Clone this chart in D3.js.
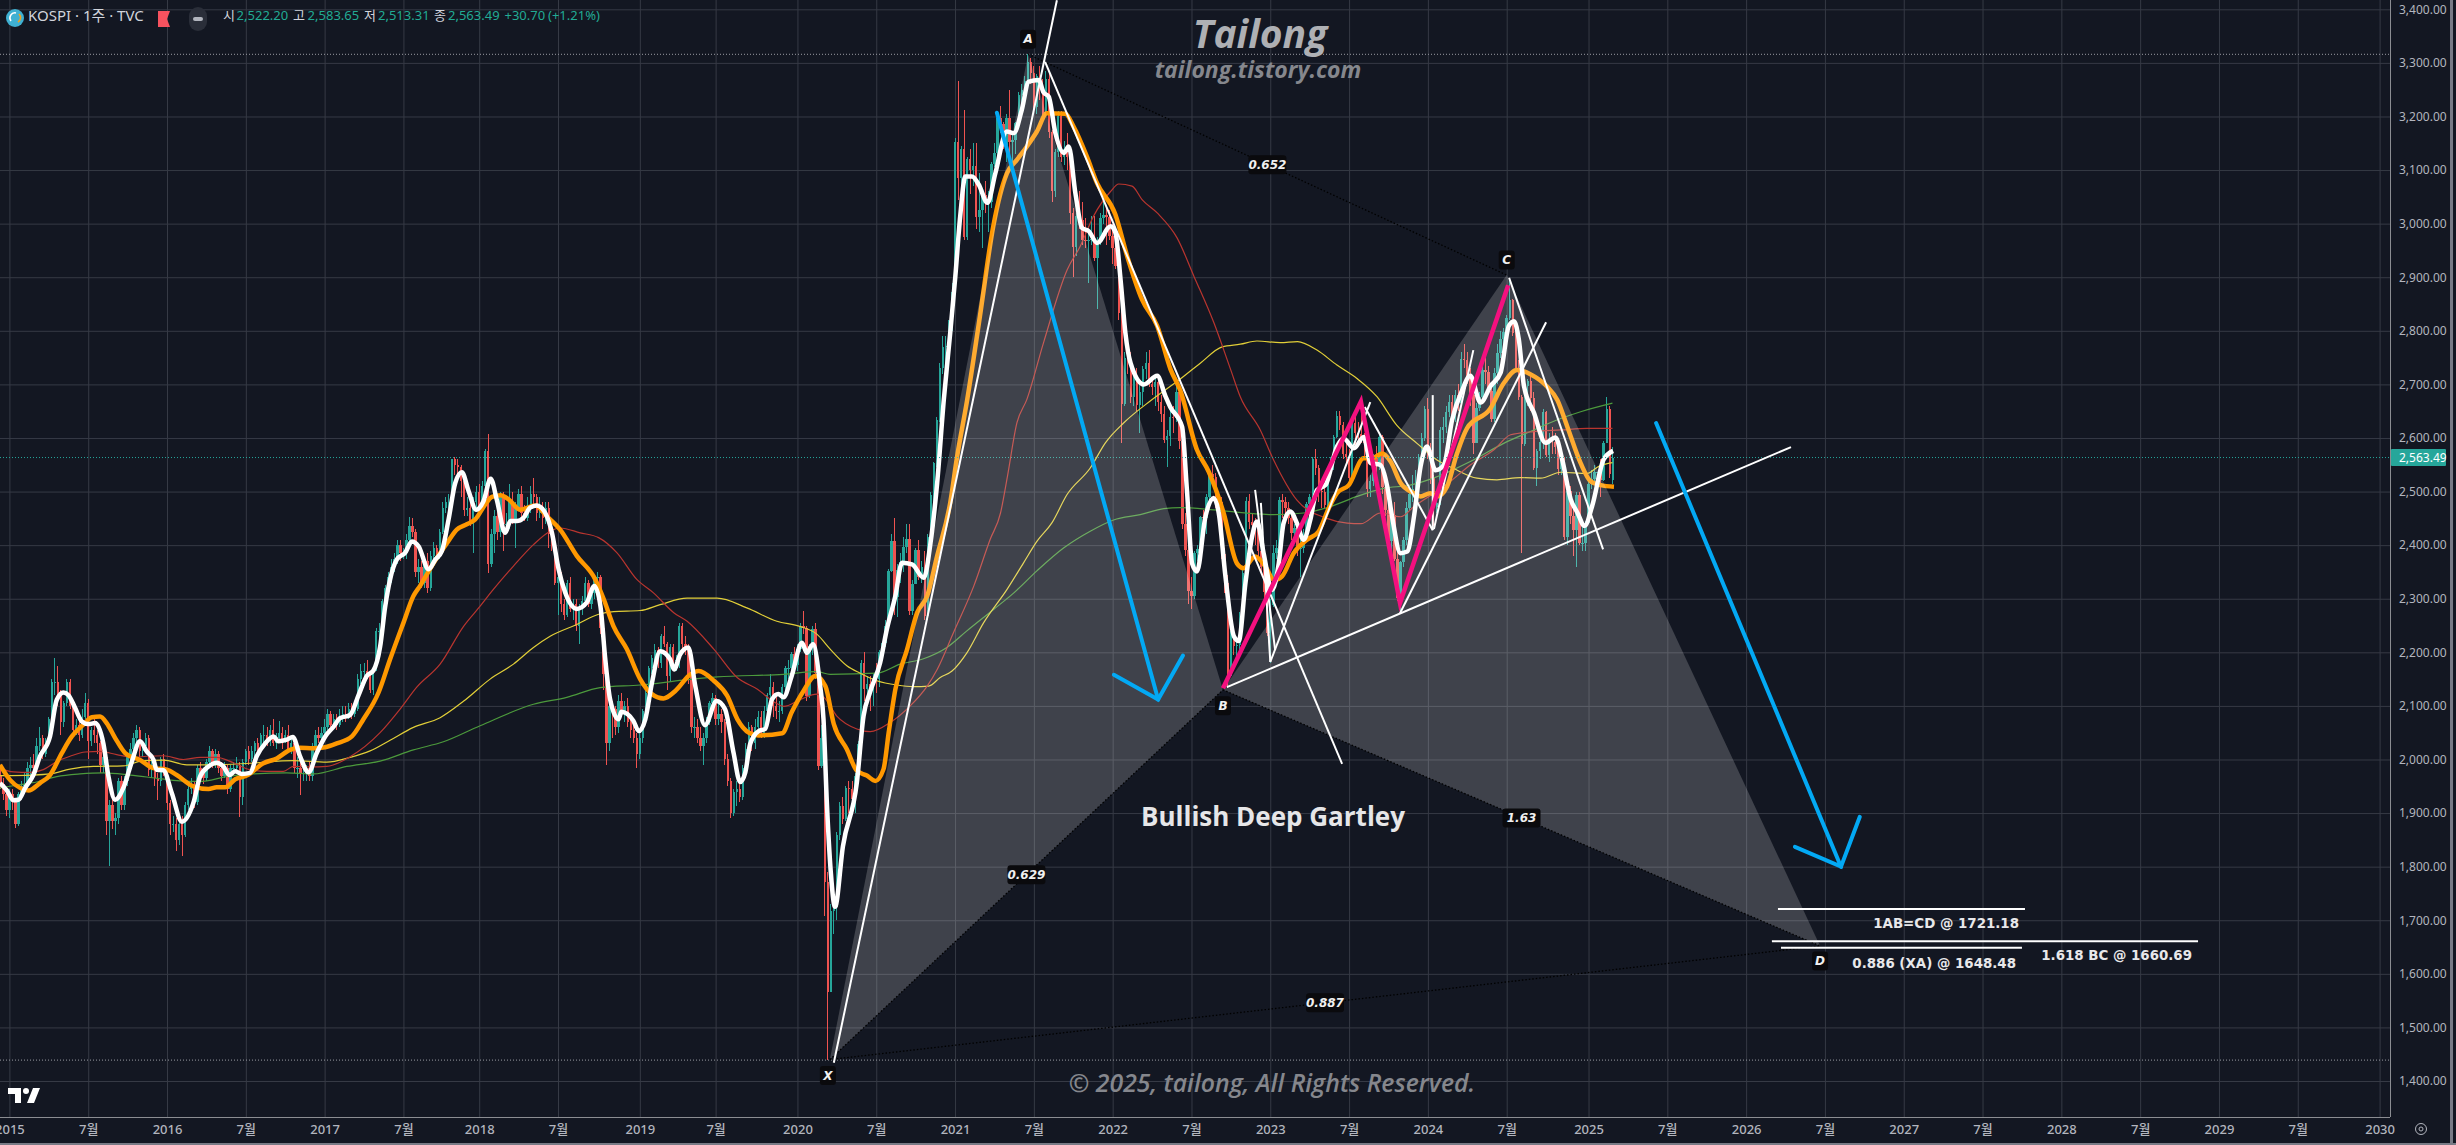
<!DOCTYPE html>
<html>
<head>
<meta charset="utf-8">
<script src="https://cdn.jsdelivr.net/npm/d3@7"></script>
<style>
html, body { margin: 0; padding: 0; background: #131722; overflow: hidden; }
svg { display: block; }
</style>
</head>
<body>
<div id="chart"></div>
<script>
// weekly bars, first bar is three weeks before the 2015 tick
var firstWeek = -3;
var candleOpen = [1970,1955,1935,
1905,1935,1920,1880,1935,1950,1955,1985,1990,1985,
2025,2040,2010,2035,2075,2145,2145,2125,2070,2105,
2145,2100,2055,2065,2045,2080,2105,2035,2055,2045,
2030,1990,2005,1885,1915,1885,1890,1960,1915,1960,
2005,2020,2040,2055,2015,2025,2040,1980,1990,1965,
1960,2000,1980,1918,1880,1880,1850,1880,1860,1915,
1945,1955,1920,1985,1975,1965,1995,2015,1990,2010,
1985,1970,1985,1945,1985,1985,1990,1930,1995,2015,
2000,2015,2030,2020,2045,2045,2035,2055,2030,2040,
2050,2035,2045,2020,2030,1985,1985,1975,1975,1985,
1970,2025,2045,2040,2050,2060,2085,2065,2075,2065,
2080,2085,2080,2095,2085,2095,2150,2165,2165,2160,
2130,2170,2240,2240,2295,2320,2340,2360,2375,2400,
2385,2385,2410,2435,2425,2350,2360,2330,2370,2320,
2380,2395,2380,2425,2470,2480,2480,2560,2550,2545,
2520,2465,2470,2440,2480,2500,2470,2510,2575,2365,
2420,2455,2425,2490,2440,2440,2480,2445,2470,2495,
2460,2450,2470,2495,2490,2460,2470,2450,2470,2420,
2405,2330,2340,2290,2270,2330,2280,2290,2250,2280,
2295,2330,2290,2310,2340,2340,2245,2160,2030,2100,
2095,2060,2110,2090,2100,2070,2055,2040,2010,2040,
2090,2125,2170,2190,2205,2180,2230,2215,2155,2210,
2185,2185,2250,2215,2210,2155,2060,2060,2040,2025,
2040,2070,2105,2115,2075,2085,2070,2000,1960,1900,
1940,1945,1930,1985,2020,2060,2030,2060,2080,2050,
2090,2120,2135,2100,2090,2090,2135,2170,2170,2197,
2176,2206,2250,2246,2119,2211,2243,2162,1987,2040,
1771,1566,1717,1725,1860,1914,1889,1947,1945,1927,
1970,2029,2181,2132,2141,2134,2152,2150,2201,2217,
2249,2351,2407,2304,2353,2368,2396,2412,2278,2327,
2391,2341,2360,2267,2416,2493,2553,2633,2731,2770,
2772,2806,2873,3152,3085,3140,2976,3120,3100,3107,
3013,3026,3054,3039,3041,3112,3131,3198,3186,3147,
3197,3153,3156,3188,3240,3249,3267,3302,3281,3217,
3276,3254,3202,3270,3171,3060,3133,3201,3125,3140,
3125,3019,2956,3015,3007,2970,2969,2969,2971,2936,
2968,3010,3017,3012,2977,2954,2921,2834,2663,2750,
2744,2676,2713,2661,2686,2729,2739,2700,2696,2704,
2667,2644,2596,2604,2639,2638,2685,2595,2440,2391,
2314,2305,2385,2393,2452,2451,2490,2533,2527,2492,
2481,2384,2329,2155,2232,2212,2213,2268,2348,2483,
2444,2437,2434,2389,2360,2313,2236,2289,2386,2395,
2484,2480,2469,2451,2423,2432,2394,2395,2414,2476,
2490,2561,2544,2501,2500,2475,2537,2559,2601,2641,
2625,2570,2564,2526,2628,2609,2608,2602,2591,2504,
2519,2563,2548,2601,2508,2465,2408,2456,2375,2302,
2368,2409,2469,2496,2505,2517,2563,2600,2655,2578,
2525,2472,2478,2615,2620,2648,2667,2642,2680,2666,
2748,2746,2714,2681,2591,2656,2676,2727,2724,2687,
2636,2722,2758,2784,2797,2824,2857,2795,2731,2676,
2588,2697,2707,2674,2544,2575,2593,2649,2569,2596,
2593,2583,2542,2561,2416,2501,2455,2428,2494,2404,
2404,2441,2515,2523,2536,2536,2521,2591,2654,2522.2];
var candleHigh = [1985,1965,1940,
1945,1945,1925,1940,1960,1975,1995,2005,2010,2040,
2060,2045,2040,2080,2150,2189,2175,2130,2110,2150,
2150,2110,2075,2075,2095,2125,2112,2060,2075,2055,
2035,2015,2010,1925,1925,1900,1965,1970,1970,2010,
2030,2050,2065,2060,2035,2050,2045,2000,1995,1975,
2005,2010,1985,1925,1895,1890,1885,1895,1920,1950,
1965,1960,1990,1995,1985,2000,2025,2020,2020,2015,
1995,1995,1990,1990,1995,2005,1995,2000,2020,2025,
2025,2035,2040,2050,2065,2060,2065,2075,2050,2072,
2060,2055,2065,2040,2040,2005,1995,1990,1990,1995,
2030,2055,2060,2060,2075,2095,2090,2085,2085,2095,
2100,2100,2105,2105,2110,2160,2178,2180,2185,2165,
2175,2245,2255,2300,2325,2350,2375,2385,2410,2410,
2395,2420,2452,2450,2430,2375,2370,2380,2385,2390,
2405,2400,2430,2480,2490,2495,2561,2565,2560,2550,
2525,2490,2485,2490,2510,2515,2520,2580,2607,2430,
2465,2470,2500,2500,2460,2515,2500,2480,2505,2510,
2475,2490,2510,2525,2495,2490,2480,2480,2480,2430,
2410,2345,2350,2300,2335,2340,2300,2300,2290,2305,
2340,2335,2320,2345,2350,2345,2250,2165,2110,2110,
2100,2120,2125,2110,2115,2085,2075,2050,2050,2095,
2130,2175,2195,2215,2210,2235,2250,2220,2215,2215,
2195,2255,2255,2230,2215,2160,2080,2075,2060,2050,
2080,2110,2125,2120,2105,2095,2075,2010,1965,1945,
1960,1960,1990,2030,2070,2065,2075,2090,2090,2100,
2125,2160,2145,2120,2110,2140,2175,2185,2200,2210,
2215,2255,2277,2250,2215,2250,2255,2170,2065,2060,
1790,1730,1760,1865,1920,1930,1950,1960,1960,1975,
2035,2185,2200,2155,2155,2160,2180,2205,2220,2260,
2355,2420,2450,2365,2385,2415,2440,2440,2335,2395,
2410,2370,2390,2420,2500,2555,2640,2740,2790,2790,
2820,2890,3160,3266,3145,3213,3125,3140,3150,3150,
3095,3060,3080,3060,3115,3150,3200,3220,3190,3205,
3250,3170,3190,3245,3260,3275,3316,3310,3295,3280,
3295,3270,3285,3280,3175,3140,3210,3210,3155,3170,
3130,3030,3020,3060,3040,3010,2995,3015,3015,2975,
3020,3045,3030,3025,3000,2985,2930,2850,2760,2790,
2760,2735,2730,2700,2735,2760,2765,2715,2720,2720,
2680,2660,2615,2650,2660,2700,2690,2600,2460,2400,
2340,2390,2400,2455,2465,2495,2540,2550,2535,2500,
2490,2395,2345,2240,2245,2225,2275,2355,2490,2495,
2460,2450,2445,2415,2375,2335,2300,2400,2410,2490,
2495,2490,2480,2460,2440,2445,2410,2430,2480,2495,
2565,2580,2550,2515,2515,2540,2565,2605,2650,2650,
2630,2590,2580,2630,2640,2630,2668,2610,2600,2530,
2570,2585,2610,2605,2520,2480,2460,2480,2395,2370,
2415,2480,2505,2530,2540,2570,2610,2660,2675,2590,
2530,2500,2620,2640,2660,2680,2680,2690,2700,2760,
2775,2760,2730,2690,2665,2685,2735,2755,2735,2695,
2730,2775,2800,2805,2830,2896,2860,2800,2745,2680,
2700,2710,2715,2685,2580,2600,2655,2650,2610,2620,
2610,2600,2580,2565,2505,2510,2470,2500,2500,2440,
2445,2525,2540,2550,2536,2560,2595,2676,2660,2583.65];
var candleLow = [1945,1925,1895,
1890,1905,1872,1875,1925,1935,1945,1970,1970,1975,
2015,2000,2005,2030,2070,2120,2100,2045,2060,2100,
2095,2045,2045,2035,2040,2075,2000,2025,2030,2010,
1975,1975,1860,1802,1870,1860,1880,1905,1905,1950,
1995,2010,2030,2005,2005,2015,1970,1965,1950,1925,
1950,1970,1905,1860,1865,1830,1840,1819,1855,1905,
1935,1910,1915,1965,1955,1960,1985,1985,1985,1975,
1960,1965,1935,1940,1975,1975,1892,1915,1990,1990,
1995,2005,2010,2015,2030,2025,2025,2025,2020,2030,
2020,2030,2015,2010,1975,1965,1934,1960,1960,1960,
1960,2020,2030,2035,2045,2055,2060,2060,2055,2060,
2070,2070,2075,2075,2080,2090,2140,2150,2150,2125,
2120,2165,2225,2230,2285,2310,2330,2350,2365,2370,
2375,2375,2400,2415,2340,2330,2320,2320,2310,2315,
2370,2370,2375,2420,2460,2465,2470,2530,2525,2490,
2455,2455,2435,2385,2470,2460,2465,2500,2348,2360,
2385,2410,2415,2390,2420,2430,2440,2395,2465,2450,
2445,2445,2460,2470,2445,2450,2430,2440,2395,2390,
2325,2270,2275,2260,2265,2275,2260,2240,2215,2270,
2285,2285,2280,2300,2325,2235,2130,1990,2015,2040,
2045,2050,2080,2070,2060,2040,2030,1985,2000,2030,
2085,2120,2160,2180,2170,2170,2210,2130,2145,2170,
2165,2170,2205,2195,2140,2050,2040,2030,2015,1990,
2030,2065,2085,2065,2065,2050,1990,1950,1891,1895,
1914,1920,1925,1975,2010,2015,2020,2050,2040,2040,
2080,2110,2080,2075,2070,2085,2125,2150,2150,2165,
2165,2200,2235,2110,2115,2195,2150,1980,1985,1708,
1439,1580,1675,1700,1850,1880,1885,1900,1910,1900,
1965,2030,2110,2100,2090,2100,2125,2135,2190,2210,
2250,2350,2270,2265,2330,2350,2385,2270,2270,2330,
2335,2330,2260,2260,2400,2480,2545,2630,2720,2740,
2730,2800,2870,3045,3060,2970,2970,3055,3070,2990,
2985,2955,3020,2985,3030,3105,3125,3170,3140,3115,
3120,3110,3130,3185,3225,3225,3250,3260,3205,3205,
3230,3190,3200,3160,3040,3050,3125,3115,3110,3100,
3000,2900,2940,2990,2960,2955,2890,2960,2930,2840,
2960,3000,2960,2970,2925,2915,2820,2591,2660,2720,
2665,2660,2650,2610,2660,2710,2695,2680,2660,2650,
2630,2590,2545,2585,2610,2630,2580,2430,2380,2290,
2280,2300,2370,2380,2430,2420,2480,2510,2470,2465,
2375,2310,2134,2155,2195,2190,2205,2260,2340,2430,
2420,2400,2380,2350,2300,2230,2180,2285,2375,2390,
2450,2450,2440,2410,2410,2380,2340,2385,2410,2460,
2485,2530,2480,2470,2470,2470,2530,2540,2600,2615,
2560,2550,2520,2520,2580,2590,2590,2560,2490,2490,
2510,2535,2540,2495,2455,2395,2390,2370,2295,2273,
2360,2400,2465,2480,2480,2510,2560,2595,2560,2515,
2435,2460,2475,2590,2610,2640,2620,2630,2650,2660,
2730,2700,2660,2570,2590,2650,2670,2700,2685,2630,
2630,2700,2750,2760,2780,2820,2790,2725,2670,2386,
2585,2660,2650,2540,2510,2560,2580,2565,2555,2570,
2570,2530,2530,2410,2400,2440,2380,2360,2400,2390,
2390,2440,2505,2515,2536,2490,2520,2590,2525,2513.31];
var candleClose = [1955,1935,1905,
1935,1920,1880,1935,1950,1955,1985,1990,1985,2025,
2040,2010,2035,2075,2145,2145,2125,2070,2105,2145,
2100,2055,2065,2045,2080,2105,2035,2055,2045,2030,
1990,2005,1885,1915,1885,1890,1960,1915,1960,2005,
2020,2040,2055,2015,2025,2040,1980,1990,1965,1960,
2000,1980,1918,1880,1880,1850,1880,1860,1915,1945,
1955,1920,1985,1975,1965,1995,2015,1990,2010,1985,
1970,1985,1945,1985,1985,1990,1930,1995,2015,2000,
2015,2030,2020,2045,2045,2035,2055,2030,2040,2050,
2035,2045,2020,2030,1985,1985,1975,1975,1985,1970,
2025,2045,2040,2050,2060,2085,2065,2075,2065,2080,
2085,2080,2095,2085,2095,2150,2165,2165,2160,2130,
2170,2240,2240,2295,2320,2340,2360,2375,2400,2385,
2385,2410,2435,2425,2350,2360,2330,2370,2320,2380,
2395,2380,2425,2470,2480,2480,2560,2550,2545,2520,
2465,2470,2440,2480,2500,2470,2510,2575,2365,2420,
2455,2425,2490,2440,2440,2480,2445,2470,2495,2460,
2450,2470,2495,2490,2460,2470,2450,2470,2420,2405,
2330,2340,2290,2270,2330,2280,2290,2250,2280,2295,
2330,2290,2310,2340,2340,2245,2160,2030,2100,2095,
2060,2110,2090,2100,2070,2055,2040,2010,2040,2090,
2125,2170,2190,2205,2180,2230,2215,2155,2210,2185,
2185,2250,2215,2210,2155,2060,2060,2040,2025,2040,
2070,2105,2115,2075,2085,2070,2000,1960,1900,1940,
1945,1930,1985,2020,2060,2030,2060,2080,2050,2090,
2120,2135,2100,2090,2090,2135,2170,2170,2197,2176,
2206,2250,2246,2119,2211,2243,2162,1987,2040,1771,
1566,1717,1725,1860,1914,1889,1947,1945,1927,1970,
2029,2181,2132,2141,2134,2152,2150,2201,2217,2249,
2351,2407,2304,2353,2368,2396,2412,2278,2327,2391,
2341,2360,2267,2416,2493,2553,2633,2731,2770,2772,
2806,2873,3152,3085,3140,2976,3120,3100,3107,3013,
3026,3054,3039,3041,3112,3131,3198,3186,3147,3197,
3153,3156,3188,3240,3249,3267,3302,3281,3217,3276,
3254,3202,3270,3171,3060,3133,3201,3125,3140,3125,
3019,2956,3015,3007,2970,2969,2969,2971,2936,2968,
3010,3017,3012,2977,2954,2921,2834,2663,2750,2744,
2676,2713,2661,2686,2729,2739,2700,2696,2704,2667,
2644,2596,2604,2639,2638,2685,2595,2440,2391,2314,
2305,2385,2393,2452,2451,2490,2533,2527,2492,2481,
2384,2329,2155,2232,2212,2213,2268,2348,2483,2444,
2437,2434,2389,2360,2313,2236,2289,2386,2395,2484,
2480,2469,2451,2423,2432,2394,2395,2414,2476,2490,
2561,2544,2501,2500,2475,2537,2559,2601,2641,2625,
2570,2564,2526,2628,2609,2608,2602,2591,2504,2519,
2563,2548,2601,2508,2465,2408,2456,2375,2302,2368,
2409,2469,2496,2505,2517,2563,2600,2655,2578,2525,
2472,2478,2615,2620,2648,2667,2642,2680,2666,2748,
2746,2714,2681,2591,2656,2676,2727,2724,2687,2636,
2722,2758,2784,2797,2824,2857,2795,2731,2676,2588,
2697,2707,2674,2544,2575,2593,2649,2569,2596,2593,
2583,2542,2561,2416,2501,2455,2428,2494,2404,2404,
2441,2515,2523,2536,2536,2521,2591,2654,2532,2563.49];

var whiteAvg = [[-3.1,1956],[-0.9,1943],[1.3,1924],[3,1925],[5.2,1947],[7.9,1971],[10.1,2006],[13.4,2043],[15.6,2111],[17.8,2125],[19.5,2120],[21.7,2096],[23.9,2071],[26.1,2066],[28.3,2068],[31,2030],[32.7,1968],[34.9,1925],[37.6,1947],[40.4,1996],[43.1,2034],[45.3,2015],[47.5,2000],[48.6,1981],[50.8,1980],[53.6,1937],[56.9,1884],[60.7,1919],[62.9,1968],[65.7,1987],[68.4,1994],[70.6,1987],[72.6,1971],[74.5,1978],[76.7,1973],[79.4,1975],[81.6,2006],[84.4,2030],[87.1,2043],[88.8,2034],[91.5,2037],[93.5,2042],[95.9,2006],[98.7,1976],[101.4,2012],[104.2,2043],[106.9,2061],[109.1,2077],[112.4,2083],[115.2,2120],[117.9,2156],[120.1,2166],[122.3,2210],[124,2286],[125.6,2336],[127.8,2373],[130.6,2386],[132.8,2407],[135,2398],[138.3,2355],[140.5,2373],[142.7,2389],[144.9,2448],[147.1,2516],[149.3,2536],[151.5,2501],[154,2466],[156.4,2482],[158.8,2524],[160.8,2485],[163.6,2423],[165.3,2445],[167.4,2445],[169.6,2451],[171.8,2470],[174,2474],[176.8,2460],[179,2423],[181.2,2355],[183.4,2311],[187.2,2281],[190.5,2293],[193,2324],[195,2286],[196.6,2187],[198.2,2112],[201,2075],[201.9,2089],[205.9,2072],[207.6,2053],[209.8,2075],[212,2143],[214.7,2202],[218,2187],[219.3,2168],[221.3,2196],[224,2209],[226.3,2137],[229.5,2064],[233.3,2109],[236.1,2094],[238.9,2013],[241.1,1958],[242.8,1976],[244.4,2029],[247.2,2053],[249.4,2057],[251.6,2112],[253.7,2122],[255.4,2116],[258.1,2156],[261.5,2218],[263.1,2199],[265.1,2215],[267.5,2137],[268.6,2075],[269.7,1920],[271,1790],[272.4,1725],[275,1838],[279.6,1957],[281.8,2081],[283.9,2125],[287.3,2181],[289.5,2243],[292.3,2305],[294.5,2367],[297.8,2364],[301.7,2339],[303.9,2404],[306.1,2516],[308.3,2672],[310.4,2796],[312.1,2902],[313.7,3014],[315.4,3088],[317.6,3088],[319.8,3073],[322.7,3039],[325.3,3094],[329.1,3172],[331.4,3169],[334,3212],[336.3,3265],[339.6,3268],[341.2,3245],[342.9,3237],[345.1,3169],[347.9,3132],[349.5,3144],[351.7,3057],[353.9,2992],[356.1,2986],[358.9,2964],[363.3,2995],[364.9,2983],[366.6,2896],[368.2,2796],[369.9,2740],[374.3,2700],[378.7,2716],[381.4,2678],[383,2658],[386.9,2621],[388.5,2503],[390.2,2366],[391.8,2351],[394.6,2453],[397.3,2488],[399,2460],[401.2,2342],[404,2230],[405.6,2221],[407.8,2329],[410,2416],[411.6,2444],[413.8,2385],[416.6,2317],[418.8,2366],[420.4,2441],[422.6,2463],[424.8,2441],[427,2410],[429.2,2447],[431.4,2503],[434.2,2512],[438,2584],[440.2,2599],[443.6,2581],[446.8,2602],[449.1,2553],[452.3,2550],[454.6,2509],[456.2,2453],[459,2385],[461.2,2388],[463.4,2453],[465.6,2547],[467.7,2584],[470.5,2540],[473.3,2550],[476,2634],[479.3,2689],[482,2716],[485.4,2666],[488.7,2697],[492,2722],[494.7,2809],[496.4,2818],[498,2784],[499.7,2697],[503,2647],[506.8,2591],[510.1,2601],[512.3,2560],[515.1,2486],[517.3,2461],[519.7,2436],[522.2,2473],[526,2560],[529.1,2576]];
var orangeAvg = [[-3.1,1990],[0.2,1962],[3.5,1947],[6.3,1942],[10.1,1956],[13.4,1971],[17.3,2012],[20.6,2043],[24.4,2065],[27.2,2079],[29.9,2080],[32.1,2068],[34.9,2040],[38.2,2012],[43.1,1999],[47.5,1984],[51.9,1981],[55.2,1971],[60.7,1950],[65.7,1945],[68.4,1948],[71.2,1948],[74.5,1963],[78.3,1970],[83.8,1993],[88.2,2002],[92.6,2018],[95.9,2022],[100.3,2021],[104.2,2023],[108,2030],[113,2043],[116.8,2075],[121.8,2125],[125.6,2187],[130,2255],[133.3,2305],[135.5,2324],[140,2367],[144.4,2404],[147.6,2429],[150.9,2439],[153.7,2448],[157,2476],[159.2,2490],[162,2493],[164.8,2485],[168.5,2466],[173.5,2474],[177.3,2454],[181.7,2429],[187.2,2380],[193.3,2336],[196.1,2299],[199.3,2249],[203.7,2206],[208.1,2150],[212,2122],[215.8,2114],[219.7,2128],[224.7,2159],[227.4,2165],[232.4,2147],[236.8,2119],[240.2,2075],[244,2050],[247.2,2045],[255,2049],[258.1,2088],[262,2128],[265.9,2156],[269.2,2137],[272,2066],[276.3,2019],[279.6,1979],[282.9,1970],[285.7,1960],[288.4,1982],[290.1,2050],[292.3,2131],[296.2,2206],[299.5,2274],[302.8,2305],[306.1,2380],[310.4,2479],[312.7,2566],[316,2671],[320.2,2827],[324.6,2995],[329.1,3094],[332.4,3119],[335.7,3144],[339,3172],[342.3,3206],[348.4,3205],[351.1,3181],[355.5,3125],[358.8,3076],[364.9,3017],[368.8,2939],[373.7,2858],[378.7,2809],[383.1,2728],[386.3,2689],[391.8,2578],[395.7,2537],[400.6,2460],[405,2366],[407.2,2357],[411,2379],[414.4,2360],[417.2,2335],[419.9,2342],[423.7,2385],[428.1,2410],[431.9,2425],[435.3,2469],[438,2497],[441.9,2512],[446.8,2562],[449.6,2562],[452.9,2571],[455.7,2556],[459,2516],[463.4,2497],[465.6,2491],[468.8,2497],[471.1,2491],[474.3,2509],[477.6,2571],[480.9,2618],[488.6,2655],[493,2702],[497.4,2727],[501.8,2719],[507.3,2696],[510.7,2671],[514,2621],[518.4,2553],[521.7,2519],[525,2512],[529.4,2509]];
var redAvg = [[-3.1,1983],[1.3,1977],[6.8,1976],[11.2,1981],[15.6,1996],[20,2006],[25,2014],[29.9,2015],[35.4,2009],[40.9,2004],[45.3,2006],[50.8,2007],[57.4,2000],[63,2004],[68.4,2004],[73.9,1994],[79.4,1981],[84.9,1978],[90.4,1978],[93.7,1987],[99.2,1986],[104.7,1987],[112.4,2005],[122.3,2050],[128.9,2094],[134.4,2135],[142.1,2178],[149.9,2249],[155.3,2286],[159.2,2314],[166.3,2361],[172.9,2401],[178.4,2426],[181.7,2432],[188.3,2423],[194.4,2414],[200.4,2386],[207,2336],[212.5,2311],[219.2,2274],[223.6,2258],[232.4,2206],[240.1,2153],[246.8,2131],[252.7,2106],[255.5,2099],[261,2112],[266.4,2122],[268.7,2116],[273,2081],[279.6,2057],[284,2052],[290.6,2069],[297.2,2100],[302.8,2137],[306.1,2168],[311.5,2237],[318.2,2324],[323.6,2411],[327,2460],[329.3,2529],[332.4,2628],[335.7,2672],[341.2,2778],[349,2914],[353.3,2958],[357.7,3014],[363.3,3060],[366,3074],[370.4,3070],[373.7,3045],[378.7,3020],[385.3,2973],[390.8,2902],[397.4,2815],[402.9,2728],[406.1,2677],[412.7,2615],[417.1,2559],[424.8,2484],[434.7,2450],[441.4,2441],[445.9,2440],[452.4,2460],[459,2453],[463.4,2472],[470,2497],[475.4,2519],[482.1,2550],[489.8,2578],[495.3,2606],[503,2612],[511.8,2615],[520.6,2618],[528.9,2618]];
var yellowAvg = [[-3.1,1970],[7.9,1971],[13.4,1973],[20,1982],[27.7,1987],[37.6,1988],[44.2,1998],[50.8,1999],[58.5,1990],[67.3,1990],[79.4,1993],[93.7,1998],[104.7,1995],[112.4,2004],[119,2016],[125.6,2036],[133.3,2060],[142.1,2078],[149.9,2109],[158.6,2150],[166.3,2178],[172.9,2209],[178.4,2230],[187.2,2252],[194.4,2271],[199.3,2276],[208.1,2278],[214.7,2289],[223.6,2301],[233.5,2301],[243.3,2283],[253.2,2258],[261,2248],[266.4,2234],[270.8,2206],[276.3,2175],[280.7,2161],[286.2,2147],[292.8,2139],[298.3,2136],[303.3,2137],[307.1,2153],[311,2165],[315.9,2199],[321.4,2255],[329.1,2317],[334.6,2367],[339,2407],[344,2442],[348.9,2494],[356.6,2544],[361.6,2591],[367.6,2628],[376.6,2670],[386.3,2710],[393,2740],[400.1,2770],[406.1,2775],[411.6,2781],[419.3,2778],[425,2780],[431.4,2764],[438,2736],[444.6,2711],[451.2,2677],[457.7,2624],[464.4,2590],[471,2559],[476.5,2543],[484.2,2525],[490.8,2522],[498.5,2526],[505.2,2525],[511.8,2536],[520.6,2534],[524.4,2547],[528.9,2554]];
var greenAvg = [[-3.1,1947],[3.5,1953],[9,1958],[15.6,1968],[23.3,1973],[31,1975],[39.8,1971],[48.6,1965],[56.3,1960],[62.9,1959],[71.7,1968],[80.5,1973],[91.5,1975],[100.3,1973],[111.3,1987],[122.3,1997],[133.3,2018],[143.2,2033],[155.3,2063],[172.9,2103],[183.9,2116],[194.9,2134],[208.1,2139],[222.4,2148],[233.5,2154],[255.4,2159],[266.4,2164],[270.8,2159],[286.2,2161],[293.9,2178],[301.6,2188],[309.3,2209],[315.9,2240],[324.7,2280],[331.4,2311],[339,2352],[347.9,2395],[356.6,2426],[364.3,2447],[373.1,2457],[380.9,2468],[386.3,2470],[397.3,2466],[410.5,2459],[417.1,2457],[427,2460],[435.9,2472],[444.6,2491],[453.4,2506],[462.1,2512],[469.8,2525],[482,2556],[493,2590],[501.8,2612],[510.7,2634],[518.4,2649],[528.9,2665]];

// harmonic pattern pivots
var pivotNames = ["X","A","B","C","D"];
var pivotWeeks = [270.7,336.1,400.4,494,597.4];
var pivotValues = [1440,3316,2130,2904,1652];
var ratioLabels = ["0.629","0.652","1.63","0.887"];
var ratioPairs = [[0,2],[1,3],[2,4],[0,4]];

// hand drawn trend lines, [week, value, week, value]
var whiteLines = [
	[272,1434,345.6,3417],
	[341.7,3302,439.7,1992],
	[401.7,2135,587.8,2583],
	[416,2182,449,2667],
	[447.2,2658,469.6,2428],
	[411,2503,417.6,2204],
	[412.9,2479,416,2182],
	[458.8,2273,507,2816],
	[494.8,2899,525.8,2392],
	[469.6,2428,469.6,2680],
	[470,2430,483,2764]
];
var pinkPath = [[400.4,2133],[445.9,2668],[458.8,2292],[494.5,2885]];
var arrowShafts = [[325.8,3207,379,2112],[543.3,2628,604.3,1800]];
var arrowHeads = [
	[[364.4,2158],[379,2112],[387.2,2194]],
	[[589.1,1837],[604.3,1800],[610.5,1893]]
];
var levelLines = [[583.5,665,1721.18],[581.5,722.1,1660.69],[584.5,664,1648.48]];

var priceTicks = [3400,3300,3200,3100,3000,2900,2800,2700,2600,2500,2400,2300,2200,2100,2000,1900,1800,1700,1600,1500,1400];
var timeTicks = [0,26,52,78,104,130,155,181,208,233,260,286,312,338,364,390,416,442,468,494,521,547,573,599,625,651,677,703,729,755,782];
var timeLabels = ["2015","7월","2016","7월","2017","7월","2018","7월","2019","7월","2020","7월","2021","7월","2022","7월","2023","7월","2024","7월","2025","7월","2026","7월","2027","7월","2028","7월","2029","7월","2030"];

var highPrice = 3316, lowPrice = 1439, lastPrice = 2563.49;

var width = 2456, height = 1145,
	plotRight = 2390, plotBottom = 1117;

var x = d3.scaleLinear().domain([0,782]).range([9.4,2379.6]);
var y = d3.scaleLinear().domain([3400,1400]).range([9.3,1081]);

var sansFont = "'Noto Sans','Noto Sans CJK KR',sans-serif";

var svg = d3.select("#chart").append("svg")
	.attr("width", width)
	.attr("height", height);

svg.append("rect")
	.attr("width", width)
	.attr("height", height)
	.attr("fill", "#131722");

svg.append("clipPath").attr("id","plot-clip")
	.append("rect")
	.attr("width", plotRight)
	.attr("height", plotBottom);

// grid comes from the axes
var xAxis = d3.axisBottom(x)
	.tickValues(timeTicks)
	.tickSize(plotBottom)
	.tickFormat(function(d,i) { return timeLabels[i]; });

var yAxis = d3.axisRight(y)
	.tickValues(priceTicks)
	.tickSize(plotRight)
	.tickFormat(d3.format(",.2f"));

var xGroup = svg.append("g").attr("class","x-axis").call(xAxis);
var yGroup = svg.append("g").attr("class","y-axis").call(yAxis);
xGroup.select(".domain").remove();
yGroup.select(".domain").remove();
xGroup.selectAll(".tick line").attr("stroke","#363a45").attr("stroke-width",1);
yGroup.selectAll(".tick line").attr("stroke","#363a45").attr("stroke-width",1);
xGroup.selectAll(".tick text")
	.attr("y", plotBottom + 8)
	.attr("fill","#b2b5be")
	.style("font-family", sansFont)
	.style("font-size","13px")
	.style("font-weight","500");
yGroup.selectAll(".tick text")
	.attr("x", 2399)
	.attr("fill","#b2b5be")
	.style("font-family", sansFont)
	.style("font-size","12px");

var plot = svg.append("g").attr("clip-path","url(#plot-clip)");

// candles
var candles = plot.append("g").selectAll("g")
	.data(candleClose)
	.enter()
	.append("g");

function candleColor(i) {
	return candleClose[i] >= candleOpen[i] ? "#26a69a" : "#ef5350";
}

candles.append("line")
	.attr("x1", function(d,i) { return x(i + firstWeek); })
	.attr("x2", function(d,i) { return x(i + firstWeek); })
	.attr("y1", function(d,i) { return y(candleHigh[i]); })
	.attr("y2", function(d,i) { return y(candleLow[i]); })
	.attr("stroke", function(d,i) { return candleColor(i); })
	.attr("stroke-width", 1)
	.attr("shape-rendering","crispEdges");

candles.append("rect")
	.attr("x", function(d,i) { return x(i + firstWeek) - 1.2; })
	.attr("width", 2.4)
	.attr("y", function(d,i) { return y(Math.max(candleOpen[i], candleClose[i])); })
	.attr("height", function(d,i) { return Math.max(1, Math.abs(y(candleOpen[i]) - y(candleClose[i]))); })
	.attr("fill", function(d,i) { return candleColor(i); })
	.attr("shape-rendering","crispEdges");

// moving averages
var avgLine = d3.line()
	.x(function(d) { return x(d[0]); })
	.y(function(d) { return y(d[1]); })
	.curve(d3.curveMonotoneX);

function drawAvg(points, color, lineWidth) {
	plot.append("path")
		.datum(points)
		.attr("d", avgLine)
		.attr("fill","none")
		.attr("stroke", color)
		.attr("stroke-width", lineWidth)
		.attr("stroke-linejoin","round");
}

drawAvg(greenAvg, "#4c9a3c", 1.2);
drawAvg(yellowAvg, "#e2cf38", 1.2);
drawAvg(redAvg, "#b9352f", 1.2);
drawAvg(orangeAvg, "#ff9800", 4.5);
drawAvg(whiteAvg, "#ffffff", 4.5);

// last / high / low price lines
plot.append("line")
	.attr("x1",0).attr("x2",plotRight)
	.attr("y1",y(lastPrice)).attr("y2",y(lastPrice))
	.attr("stroke","#26a69a").attr("stroke-dasharray","1 2");
[highPrice, lowPrice].forEach(function(p) {
	plot.append("line")
		.attr("x1",0).attr("x2",plotRight)
		.attr("y1",y(p)).attr("y2",y(p))
		.attr("stroke","#9a9ca3").attr("stroke-dasharray","1 2");
});

// pattern fill, triangles XAB and BCD
var pivots = pivotWeeks.map(function(w,i) { return [x(w), y(pivotValues[i])]; });
plot.selectAll(".wing")
	.data([[0,1,2],[2,3,4]])
	.enter()
	.append("polygon")
	.attr("class","wing")
	.attr("points", function(t) {
		return t.map(function(k) { return pivots[k].join(","); }).join(" ");
	})
	.attr("fill","#ffffff")
	.attr("fill-opacity",0.19);

// dotted ratio lines
plot.selectAll(".ratio-line")
	.data(ratioPairs)
	.enter()
	.append("line")
	.attr("class","ratio-line")
	.attr("x1", function(d) { return pivots[d[0]][0]; })
	.attr("y1", function(d) { return pivots[d[0]][1]; })
	.attr("x2", function(d) { return pivots[d[1]][0]; })
	.attr("y2", function(d) { return pivots[d[1]][1]; })
	.attr("stroke","#000000")
	.attr("stroke-width",1.3)
	.attr("stroke-dasharray","1.5 2");

// white trend lines
plot.selectAll(".trend")
	.data(whiteLines)
	.enter()
	.append("line")
	.attr("class","trend")
	.attr("x1", function(d) { return x(d[0]); })
	.attr("y1", function(d) { return y(d[1]); })
	.attr("x2", function(d) { return x(d[2]); })
	.attr("y2", function(d) { return y(d[3]); })
	.attr("stroke","#ffffff")
	.attr("stroke-width",2);

var straight = d3.line()
	.x(function(d) { return x(d[0]); })
	.y(function(d) { return y(d[1]); });

plot.append("path")
	.datum(pinkPath)
	.attr("d", straight)
	.attr("fill","none")
	.attr("stroke","#f4107f")
	.attr("stroke-width",4.5)
	.attr("stroke-linejoin","miter");

// blue arrows
plot.selectAll(".arrow-shaft")
	.data(arrowShafts)
	.enter()
	.append("line")
	.attr("class","arrow-shaft")
	.attr("x1", function(d) { return x(d[0]); })
	.attr("y1", function(d) { return y(d[1]); })
	.attr("x2", function(d) { return x(d[2]); })
	.attr("y2", function(d) { return y(d[3]); })
	.attr("stroke","#03a9f4")
	.attr("stroke-width",4)
	.attr("stroke-linecap","round");
plot.selectAll(".arrow-head")
	.data(arrowHeads)
	.enter()
	.append("path")
	.attr("class","arrow-head")
	.attr("d", straight)
	.attr("fill","none")
	.attr("stroke","#03a9f4")
	.attr("stroke-width",4)
	.attr("stroke-linecap","round");

// projection levels at D
plot.selectAll(".level")
	.data(levelLines)
	.enter()
	.append("line")
	.attr("class","level")
	.attr("x1", function(d) { return x(d[0]); })
	.attr("x2", function(d) { return x(d[1]); })
	.attr("y1", function(d) { return y(d[2]); })
	.attr("y2", function(d) { return y(d[2]); })
	.attr("stroke","#ffffff")
	.attr("stroke-width",2);

function levelText(str, px, py, anchor) {
	svg.append("text")
		.attr("x",px).attr("y",py)
		.attr("text-anchor",anchor)
		.attr("dominant-baseline","central")
		.attr("fill","#e8e8ea")
		.style("font-family","'DejaVu Sans',sans-serif")
		.style("font-weight","bold")
		.style("font-size","13.4px")
		.text(str);
}
levelText("1AB=CD @ 1721.18", 2019, 923, "end");
levelText("1.618 BC @ 1660.69", 2192, 955, "end");
levelText("0.886 (XA) @ 1648.48", 2016, 963, "end");

// tag boxes
function tag(str, cx, cy, w) {
	svg.append("rect")
		.attr("x",cx-w/2).attr("y",cy-9.5)
		.attr("width",w).attr("height",19)
		.attr("rx",3)
		.attr("fill","#0a0a0d");
	svg.append("text")
		.attr("x",cx).attr("y",cy)
		.attr("text-anchor","middle")
		.attr("dominant-baseline","central")
		.attr("fill","#f0f0f0")
		.style("font-family","'DejaVu Sans',sans-serif")
		.style("font-style","italic")
		.style("font-weight","bold")
		.style("font-size","12px")
		.text(str);
}
var tagOffsetX = [-2,0,0,0,0];
var tagOffsetY = [16,-15,16,-15,15];
pivots.forEach(function(p,i) {
	tag(pivotNames[i], p[0] + tagOffsetX[i], p[1] + tagOffsetY[i], 16);
});
ratioPairs.forEach(function(pair,i) {
	var a = pivots[pair[0]], b = pivots[pair[1]];
	tag(ratioLabels[i], (a[0]+b[0])/2, (a[1]+b[1])/2, 38);
});

// watermark and titles
function note(str, px, py, size, color, weight, style) {
	svg.append("text")
		.attr("x",px).attr("y",py)
		.attr("text-anchor","middle")
		.attr("dominant-baseline","central")
		.attr("fill",color)
		.style("font-family","'Open Sans','DejaVu Sans',sans-serif")
		.style("font-size",size + "px")
		.style("font-weight",weight)
		.style("font-style",style)
		.text(str);
}
note("Tailong", 1260, 32, 39, "#aeb0b4", "bold", "italic");
note("tailong.tistory.com", 1258, 69, 23, "#85878d", "bold", "italic");
note("© 2025, tailong, All Rights Reserved.", 1272, 1082, 24.8, "#85878d", "600", "italic");
note("Bullish Deep Gartley", 1273, 816, 26, "#e6e6e8", "bold", "normal");

// axis panels
svg.append("line")
	.attr("x1",plotRight+0.5).attr("x2",plotRight+0.5)
	.attr("y1",0).attr("y2",plotBottom)
	.attr("stroke","#8b8d92");
svg.append("line")
	.attr("x1",0).attr("x2",plotRight)
	.attr("y1",plotBottom+0.5).attr("y2",plotBottom+0.5)
	.attr("stroke","#8b8d92");
svg.append("rect").attr("x",2450).attr("y",0).attr("width",3).attr("height",height).attr("fill","#787b86");
svg.append("rect").attr("x",0).attr("y",1143).attr("width",width).attr("height",2).attr("fill","#787b86");

svg.append("rect")
	.attr("x",2391).attr("y",y(lastPrice)-8.5)
	.attr("width",55).attr("height",17)
	.attr("rx",1)
	.attr("fill","#26a69a");
svg.append("text")
	.attr("x",2399).attr("y",y(lastPrice))
	.attr("dominant-baseline","central")
	.attr("fill","#ffffff")
	.style("font-family",sansFont)
	.style("font-size","12px")
	.text(d3.format(",.2f")(lastPrice));

// gear at the corner of the axes
svg.append("circle").attr("cx",2421).attr("cy",1129).attr("r",5.5).attr("fill","none").attr("stroke","#b2b5be");
svg.append("circle").attr("cx",2421).attr("cy",1129).attr("r",2).attr("fill","none").attr("stroke","#b2b5be");

// tv logo, bottom left
var logo = svg.append("g").attr("fill","#ffffff");
logo.append("path").attr("d","M8 1088h13v15h-6v-9h-7z");
logo.append("circle").attr("cx",26).attr("cy",1091).attr("r",3);
logo.append("path").attr("d","M33 1088h7l-6 15h-7z");

// header legend
svg.append("circle").attr("cx",15).attr("cy",18).attr("r",9).attr("fill","#3fb0d2");
svg.append("path").attr("d","M11 21a5 5 0 0 1 5-8").attr("fill","none").attr("stroke","#ffffff").attr("stroke-width",1.5);
svg.append("path").attr("d","M19 14a5 5 0 0 1-1 8").attr("fill","none").attr("stroke","#f7a21b").attr("stroke-width",1.5);

function legend(str, px, color, size) {
	svg.append("text")
		.attr("x",px).attr("y",15)
		.attr("dominant-baseline","central")
		.attr("fill",color)
		.style("font-family",sansFont)
		.style("font-size",size + "px")
		.text(str);
}
legend("KOSPI · 1주 · TVC", 28, "#d1d4dc", 15);
svg.append("path").attr("d","M158 11h12l-3 8l3 8h-12z").attr("fill","#f7525f");
svg.append("rect").attr("x",189).attr("y",7).attr("width",18).attr("height",24).attr("rx",9).attr("fill","#2a2e39");
svg.append("rect").attr("x",193).attr("y",17).attr("width",10).attr("height",4).attr("rx",2).attr("fill","#b2b5be");

var legendLabels = ["시","고","저","종"];
var legendLabelX = [223,293,364,434];
var legendValues = [candleOpen[532],candleHigh[532],candleLow[532],candleClose[532]];
var legendValueX = [236.6,307.6,378,448];
legendLabels.forEach(function(s,i) {
	legend(s, legendLabelX[i], "#d1d4dc", 13);
	legend(d3.format(",.2f")(legendValues[i]), legendValueX[i], "#22ab94", 13);
});
legend("+30.70", 504.5, "#22ab94", 13);
legend("(+1.21%)", 548, "#22ab94", 13);
</script>
</body>
</html>
